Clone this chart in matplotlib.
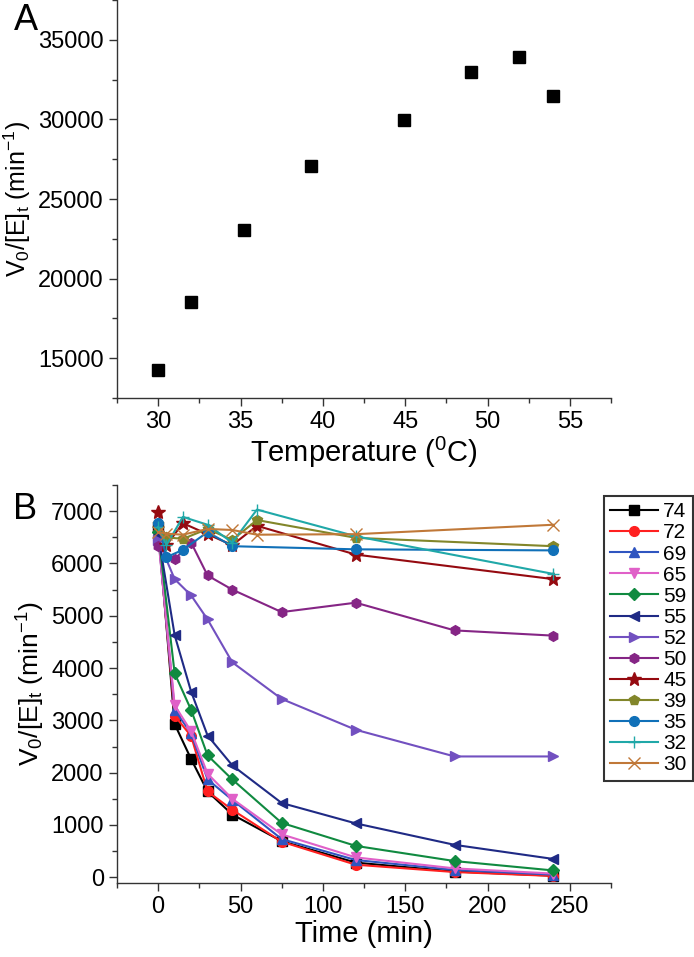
import numpy as np
import matplotlib
matplotlib.use('Agg')
import matplotlib.pyplot as plt
from matplotlib.ticker import MultipleLocator

plt.rcParams['font.family'] = ['Liberation Sans', 'DejaVu Sans']
plt.rcParams['mathtext.fontset'] = 'custom'
plt.rcParams['mathtext.rm'] = 'Liberation Sans'
plt.rcParams['mathtext.it'] = 'Liberation Sans'

# panel A
temp = [30, 32, 35.2, 39.3, 44.9, 49, 51.9, 54]
rate = [14250, 18500, 23030, 27060, 29940, 32970, 33940, 31460]

# panel B
t_fast = [0, 10, 20, 30, 45, 75, 120, 180, 240]
t_slow = [0, 5, 15, 30, 45, 60, 120, 240]
t_35 = [0, 5, 15, 30, 45, 120, 240]

v74 = [6700, 2930, 2260, 1640, 1200, 690, 280, 110, 30]
v72 = [6600, 3090, 2700, 1640, 1290, 680, 240, 100, 25]
v69 = [6550, 3200, 2750, 1870, 1480, 730, 330, 140, 50]
v65 = [6500, 3290, 2790, 1980, 1500, 820, 380, 170, 70]
v59 = [6600, 3900, 3200, 2330, 1870, 1040, 600, 310, 130]
v55 = [6550, 4630, 3550, 2710, 2140, 1420, 1030, 620, 350]
v52 = [6450, 5700, 5390, 4930, 4110, 3410, 2820, 2310, 2310]
v50 = [6330, 6080, 6400, 5770, 5500, 5070, 5250, 4720, 4620]
v45 = [6980, 6350, 6770, 6560, 6350, 6720, 6170, 5700]
v39 = [6750, 6500, 6470, 6660, 6450, 6830, 6490, 6330]
v35 = [6770, 6120, 6260, 6600, 6330, 6270, 6250]
v32 = [6700, 6350, 6890, 6740, 6400, 7030, 6520, 5800]
v30 = [6600, 6570, 6550, 6660, 6640, 6550, 6560, 6740]

series = [
    ('74', t_fast, v74, 'black', 's'),
    ('72', t_fast, v72, '#ff2020', 'o'),
    ('69', t_fast, v69, '#2f55c0', '^'),
    ('65', t_fast, v65, '#e060c8', 'v'),
    ('59', t_fast, v59, '#108a40', 'D'),
    ('55', t_fast, v55, '#1f2a85', '<'),
    ('52', t_fast, v52, '#7250c0', '>'),
    ('50', t_fast, v50, '#852585', 'h'),
    ('45', t_slow, v45, '#950a10', '*'),
    ('39', t_slow, v39, '#82862a', 'p'),
    ('35', t_35, v35, '#1070b8', 'o'),
    ('32', t_slow, v32, '#20a8a8', '+'),
    ('30', t_slow, v30, '#c07838', 'x'),
]

fts = 17
ylab = 'V$_0$/[E]$_t$ (min$^{-1}$)'
fig = plt.figure(figsize=(6.94, 9.57), dpi=100)
axA = fig.add_axes([0.1686, 0.5841, 0.7118, 0.4159])
axB = fig.add_axes([0.1686, 0.0773, 0.7118, 0.4159])

for ax in (axA, axB):
    for s in ('top', 'right'):
        ax.spines[s].set_visible(False)
    for s in ('left', 'bottom'):
        ax.spines[s].set_linewidth(1.0)
        ax.spines[s].set_color('#333333')
    ax.tick_params(which='major', direction='out', length=6, width=1.0, labelsize=fts, color='#333333')
    ax.tick_params(which='minor', direction='out', length=3.5, width=1.0, color='#333333')

axA.plot(temp, rate, 's', color='black', markersize=8.5)
axA.set_xlim(27.5, 57.5)
axA.set_ylim(12500, 37500)
axA.xaxis.set_major_locator(MultipleLocator(5))
axA.xaxis.set_minor_locator(MultipleLocator(2.5))
axA.yaxis.set_major_locator(MultipleLocator(5000))
axA.yaxis.set_minor_locator(MultipleLocator(2500))
axA.set_xlabel('Temperature ($^0$C)', fontsize=21, labelpad=1)
axA.set_ylabel(ylab, fontsize=18, labelpad=4)

for lab, t, v, c, m in series:
    ms = 10 if m == '*' else (6 if m == 'D' else 7)
    if m in ('+', 'x'):
        axB.plot(t, v, '-', marker=m, color=c, lw=1.5, markersize=9, mew=1.0, label=lab)
    else:
        axB.plot(t, v, '-', marker=m, color=c, lw=1.5, markersize=ms, label=lab)

axB.set_xlim(-25, 275)
axB.set_ylim(-110, 7500)
axB.xaxis.set_major_locator(MultipleLocator(50))
axB.xaxis.set_minor_locator(MultipleLocator(25))
axB.yaxis.set_major_locator(MultipleLocator(1000))
axB.yaxis.set_minor_locator(MultipleLocator(500))
axB.set_xticks([0, 50, 100, 150, 200, 250])
axB.set_xlabel('Time (min)', fontsize=21, labelpad=1)
axB.set_ylabel(ylab, fontsize=19, labelpad=3)

leg = axB.legend(loc='upper right', bbox_to_anchor=(1.166, 0.972), borderaxespad=0,
                 fancybox=False, frameon=True, fontsize=15, handlelength=2.3,
                 handletextpad=0.25, labelspacing=0.1, borderpad=0.3)
leg.get_frame().set_edgecolor('black')
leg.get_frame().set_linewidth(1.5)

fig.text(0.038, 0.979, 'A', fontsize=26, ha='center', va='center')
fig.text(0.036, 0.468, 'B', fontsize=26, ha='center', va='center')

fig.savefig('out.png', dpi=100)
